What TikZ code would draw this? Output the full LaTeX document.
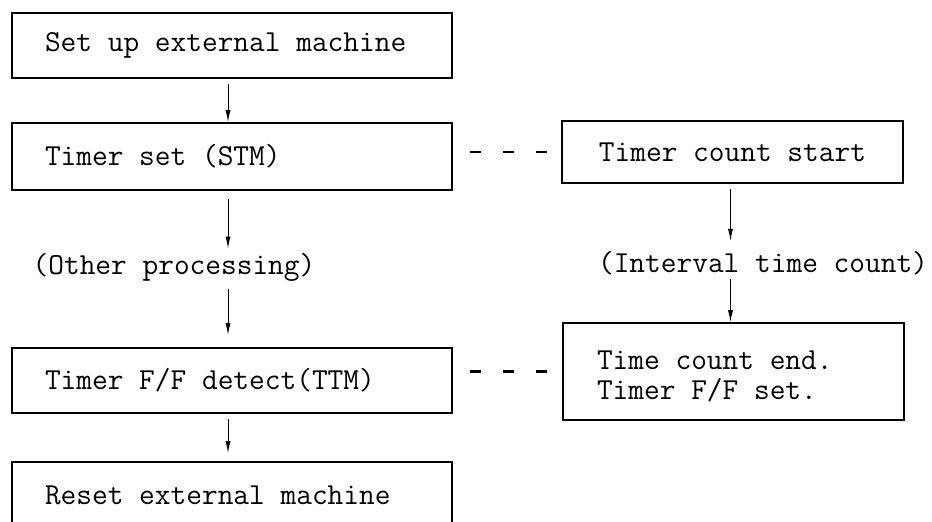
\documentclass[tikz,border=0pt]{standalone}
\usetikzlibrary{arrows.meta}
\begin{document}
\begin{tikzpicture}[x=1pt,y=-1pt,
  every node/.style={font=\ttfamily\fontsize{30.5}{29}\selectfont},
  lbox/.style={draw,line width=1.6pt,minimum width=440pt,text width=374pt,align=flush left,inner sep=0pt},
  rbox/.style={draw,line width=1.6pt,minimum width=341pt,inner sep=0pt},
  lbl/.style={inner sep=0pt},
  arr/.style={line width=1pt,-{Latex[length=12pt,width=5pt]}},
  dsh/.style={line width=2.5pt,dash pattern=on 11pt off 22pt,dash phase=16pt}]
\useasboundingbox[fill=white] (0,0) rectangle (932,522);
% left column
\node[lbox,minimum height=65pt] (b1) at (232,45.5) {Set up external machine};
\node[lbox,minimum height=67pt] (b2) at (232,156.5) {Timer set (STM)};
\node[lbl] (op) at (174,267) {(Other processing)};
\node[lbox,minimum height=65pt] (b3) at (232,380.5) {Timer F/F detect(TTM)};
\node[lbox,minimum height=66pt] (b4) at (232,495) {Reset external machine};
% right column
\node[rbox,minimum height=97pt] (r2) at (733.5,371.5)
  {\raisebox{-13pt}[29pt][29pt]{\begin{tabular}{@{}p{273pt}@{}}Time count end.\\Timer F/F set.\end{tabular}}};
\node[rbox,minimum height=62pt] (r1) at (732.5,152) {Timer count start};
\node[lbl] (it) at (763,263) {(Interval time count)};
% arrows
\draw[arr,shorten <=5pt] ([xshift=-4pt]b1.south) -- ([xshift=-4pt]b2.north);
\draw[arr,shorten <=8pt,shorten >=4pt] ([xshift=-4pt]b2.south) -- ([xshift=-4pt]b2.south |- op.north);
\draw[arr,shorten <=8pt,shorten >=12pt] ([xshift=-4pt]b3.north |- op.south) -- ([xshift=-4pt]b3.north);
\draw[arr,shorten <=5pt,shorten >=8pt] ([xshift=-4pt]b3.south) -- ([xshift=-4pt]b4.north);
\draw[arr,shorten <=5pt,shorten >=10pt] ([xshift=-2pt]r1.south) -- ([xshift=-2pt]r1.south |- it.north);
\draw[arr,shorten <=4pt] ([xshift=-3pt]r2.north |- it.south) -- ([xshift=-3pt]r2.north);
% dashed links
\draw[dsh] (r1.west -| b2.east) -- (r1.west);
\draw[dsh] (r2.west -| b3.east) -- (r2.west);
\end{tikzpicture}
\end{document}
